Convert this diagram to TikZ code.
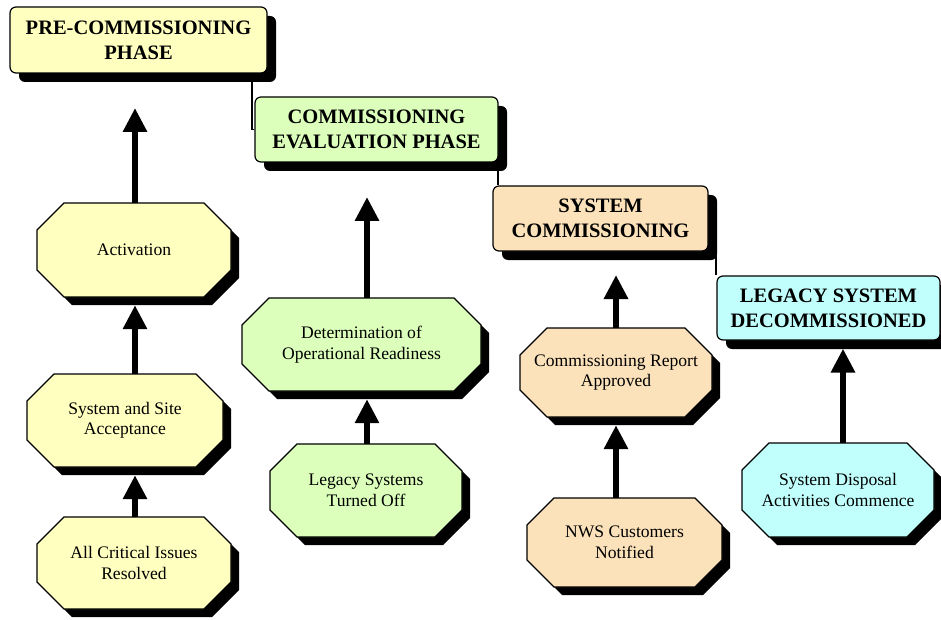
\documentclass[tikz,border=0pt]{standalone}
\usepackage{fontspec}
\setmainfont{Liberation Serif}
\usetikzlibrary{arrows.meta,shadows,backgrounds,calc}
\definecolor{yelfill}{HTML}{FFFFC0}
\definecolor{grnfill}{HTML}{DCFFBC}
\definecolor{pchfill}{HTML}{FBE2BA}
\definecolor{cyafill}{HTML}{C0FFFC}
\tikzset{
  octtext/.style={inner sep=0pt, align=center, font=\fontsize{17.6}{20.5}\selectfont},
  phasebox/.style={draw=black, line width=1.2pt, rounded corners=6pt, align=center, inner sep=0pt,
    font=\bfseries\fontsize{20.5}{25}\selectfont,
    drop shadow={shadow xshift=9pt, shadow yshift=-9pt, opacity=1, fill=black}},
  conn/.style={draw=black, line width=1.2pt},
  arr/.style={draw=black, line width=6pt, -{Triangle[width=23pt,length=24pt]}},
}
% name, cx, cy, half width, half height, fill, text
\newcommand\octagonnode[7]{%
  \node[octtext, minimum width={2*#4}, minimum height={2*#5}] (#1) at (#2,#3) {#7};
  \begin{pgfonlayer}{background}
    \fill[black, shift={(#2+8,#3+8)}] (-#4+27,-#5) -- (#4-27,-#5) -- (#4,-#5+27) -- (#4,#5-27)
      -- (#4-27,#5) -- (-#4+27,#5) -- (-#4,#5-27) -- (-#4,-#5+27) -- cycle;
    \filldraw[fill=#6, draw=black, line width=1.2pt, shift={(#2,#3)}] (-#4+27,-#5) -- (#4-27,-#5) -- (#4,-#5+27) -- (#4,#5-27)
      -- (#4-27,#5) -- (-#4+27,#5) -- (-#4,#5-27) -- (-#4,-#5+27) -- cycle;
  \end{pgfonlayer}
}
\begin{document}
\begin{tikzpicture}[x=1pt, y=-1pt]
\useasboundingbox (0,0) rectangle (941,620);
% phase boxes
\node[phasebox, fill=yelfill, minimum width=257pt, minimum height=66pt] (b1) at (138.5,40) {PRE-COMMISSIONING\\PHASE};
\node[phasebox, fill=grnfill, minimum width=243pt, minimum height=65pt] (b2) at (376.5,129.5) {COMMISSIONING\\EVALUATION PHASE};
\node[phasebox, fill=pchfill, minimum width=215pt, minimum height=65pt] (b3) at (600.5,218.5) {SYSTEM\\COMMISSIONING};
\node[phasebox, fill=cyafill, minimum width=223pt, minimum height=64pt] (b4) at (828.5,308) {LEGACY SYSTEM\\DECOMMISSIONED};
% octagons
\octagonnode{act}{134}{250}{97}{47}{yelfill}{Activation}
\octagonnode{ssa}{125}{420.5}{98}{46.5}{yelfill}{System and Site\\Acceptance}
\octagonnode{aci}{134}{563}{97}{46}{yelfill}{All Critical Issues\\Resolved}
\octagonnode{dor}{361.5}{344.5}{119.5}{46.5}{grnfill}{Determination of\\Operational Readiness}
\octagonnode{lst}{366}{490.5}{96}{46.5}{grnfill}{Legacy Systems\\Turned Off}
\octagonnode{cra}{616}{372.5}{96}{44.5}{pchfill}{Commissioning Report\\Approved}
\octagonnode{nws}{624.5}{542.5}{97.5}{44.5}{pchfill}{NWS Customers\\Notified}
\octagonnode{sda}{838}{490}{96}{47}{cyafill}{System Disposal\\Activities Commence}
% connector columns
\coordinate (k1) at (252,0);
\coordinate (k2) at (498,0);
\coordinate (k3) at (716,0);
\begin{pgfonlayer}{background}
  \draw[conn] (k1 |- b1.south) |- (b2.west);
  \draw[conn] (k2 |- b2.south) -- (k2 |- b3.north);
  \draw[conn] (k3 |- b3.south) -- (k3 |- b4.north);
\end{pgfonlayer}
% arrows
\coordinate (t1) at (135,108);
\coordinate (t2) at (367,197);
\coordinate (t3) at (616,275);
\coordinate (c4) at (843,0);
\draw[arr] (act.north -| t1) -- (t1);
\draw[arr] (ssa.north -| t1) -- ($(act.south -| t1)+(0,8)$);
\draw[arr] (aci.north -| t1) -- ($(ssa.south -| t1)+(0,8)$);
\draw[arr] (dor.north -| t2) -- (t2);
\draw[arr] (lst.north -| t2) -- ($(dor.south -| t2)+(0,8)$);
\draw[arr] (cra.north -| t3) -- (t3);
\draw[arr] (nws.north -| t3) -- ($(cra.south -| t3)+(0,8)$);
\draw[arr] (sda.north -| c4) -- ($(b4.south -| c4)+(0,8)$);
\end{tikzpicture}
\end{document}
